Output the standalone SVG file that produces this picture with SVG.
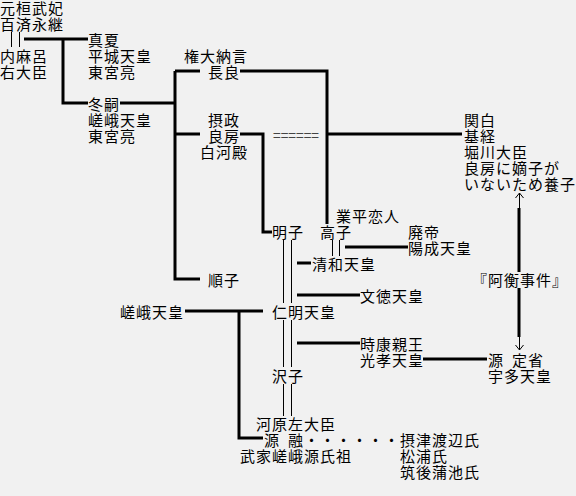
<svg xmlns="http://www.w3.org/2000/svg" width="576" height="496" viewBox="0 0 576 496">
<style>
text{font-family:"Noto Sans CJK JP","Noto Sans CJK SC",sans-serif;font-size:15px;letter-spacing:1px;fill:#000}
.k{stroke:#000;stroke-width:3;fill:none}
.t{stroke:#000;stroke-width:1;fill:none}
.eq{fill:#444;font-size:15px;letter-spacing:0}
</style>
<rect width="576" height="496" fill="#f1f1f1"/>
<g id="connectors">
<path class="t" d="M11.5 32V47M19.5 32V47"/>
<path class="k" d="M24 39H88M63 39V103H88M120 103H175M175 71V279H200M175 71H200M240 71H327V224M175 134H200M240 134H263V232H272M327 134H462"/>
<path class="t" d="M283.5 240V303M291.5 240V303M283.5 320V367M291.5 320V367M283.5 384V416M291.5 384V416M332.5 240V256M339.5 240V256"/>
<path class="k" d="M345 247H408M297 263H311M297 295H360M185 311H263M239 311V438H263M297 343H360M423 359H487M519 208V272M519 288V337"/>
<path class="t" d="M519.5 193V208M515.5 198L519.5 193L523.5 198M519.5 337V350M515.5 345L519.5 350L523.5 345"/>
</g>
<g id="n_kanmu"><text><tspan x="0" y="14">元桓武妃</tspan><tspan x="0" y="30">百済永継</tspan></text></g>
<g id="n_uchimaro"><text><tspan x="0" y="62">内麻呂</tspan><tspan x="0" y="78">右大臣</tspan></text></g>
<g id="n_manatsu"><text><tspan x="88" y="46">真夏</tspan><tspan x="88" y="62">平城天皇</tspan><tspan x="88" y="78">東宮亮</tspan></text></g>
<g id="n_fuyutsugu"><text><tspan x="88" y="110">冬嗣</tspan><tspan x="88" y="126">嵯峨天皇</tspan><tspan x="88" y="142">東宮亮</tspan></text></g>
<g id="n_nagara"><text><tspan x="184" y="62">権大納言</tspan><tspan x="208" y="78">長良</tspan></text></g>
<g id="n_yoshifusa"><text><tspan x="208" y="126">摂政</tspan><tspan x="208" y="142">良房</tspan><tspan x="200" y="158">白河殿</tspan></text></g>
<g id="n_eq"><text class="eq" x="273" y="141" textLength="46" lengthAdjust="spacingAndGlyphs">======</text></g>
<g id="n_mototsune"><text><tspan x="464" y="126">関白</tspan><tspan x="464" y="142">基経</tspan><tspan x="464" y="158">堀川大臣</tspan><tspan x="464" y="174">良房に嫡子が</tspan><tspan x="464" y="190">いないため養子</tspan></text></g>
<g id="n_narihira"><text x="336" y="222">業平恋人</text></g>
<g id="n_akirakeiko"><text x="272" y="238">明子</text></g>
<g id="n_takaiko"><text x="320" y="238">高子</text></g>
<g id="n_yozei"><text><tspan x="408" y="238">廃帝</tspan><tspan x="408" y="254">陽成天皇</tspan></text></g>
<g id="n_seiwa"><text x="312" y="270">清和天皇</text></g>
<g id="n_junshi"><text x="208" y="286">順子</text></g>
<g id="n_ako"><text><tspan x="472" y="286">『</tspan><tspan x="488" y="286">阿衡事件</tspan><tspan x="552" y="286">』</tspan></text></g>
<g id="n_montoku"><text x="360" y="302">文徳天皇</text></g>
<g id="n_saga"><text x="120" y="318">嵯峨天皇</text></g>
<g id="n_ninmyo"><text x="272" y="318">仁明天皇</text></g>
<g id="n_koko"><text><tspan x="360" y="350">時康親王</tspan><tspan x="360" y="366">光孝天皇</tspan></text></g>
<g id="n_uda"><text><tspan x="488" y="366">源</tspan><tspan x="512" y="366">定省</tspan><tspan x="488" y="382">宇多天皇</tspan></text></g>
<g id="n_takuko"><text x="272" y="382">沢子</text></g>
<g id="n_toru"><text><tspan x="256" y="430">河原左大臣</tspan><tspan x="264" y="446">源</tspan><tspan x="288" y="446">融・・・・・・</tspan><tspan x="240" y="462">武家嵯峨源氏祖</tspan></text></g>
<g id="n_watanabe"><text><tspan x="400" y="446">摂津渡辺氏</tspan><tspan x="400" y="462">松浦氏</tspan><tspan x="400" y="478">筑後蒲池氏</tspan></text></g>
</svg>
